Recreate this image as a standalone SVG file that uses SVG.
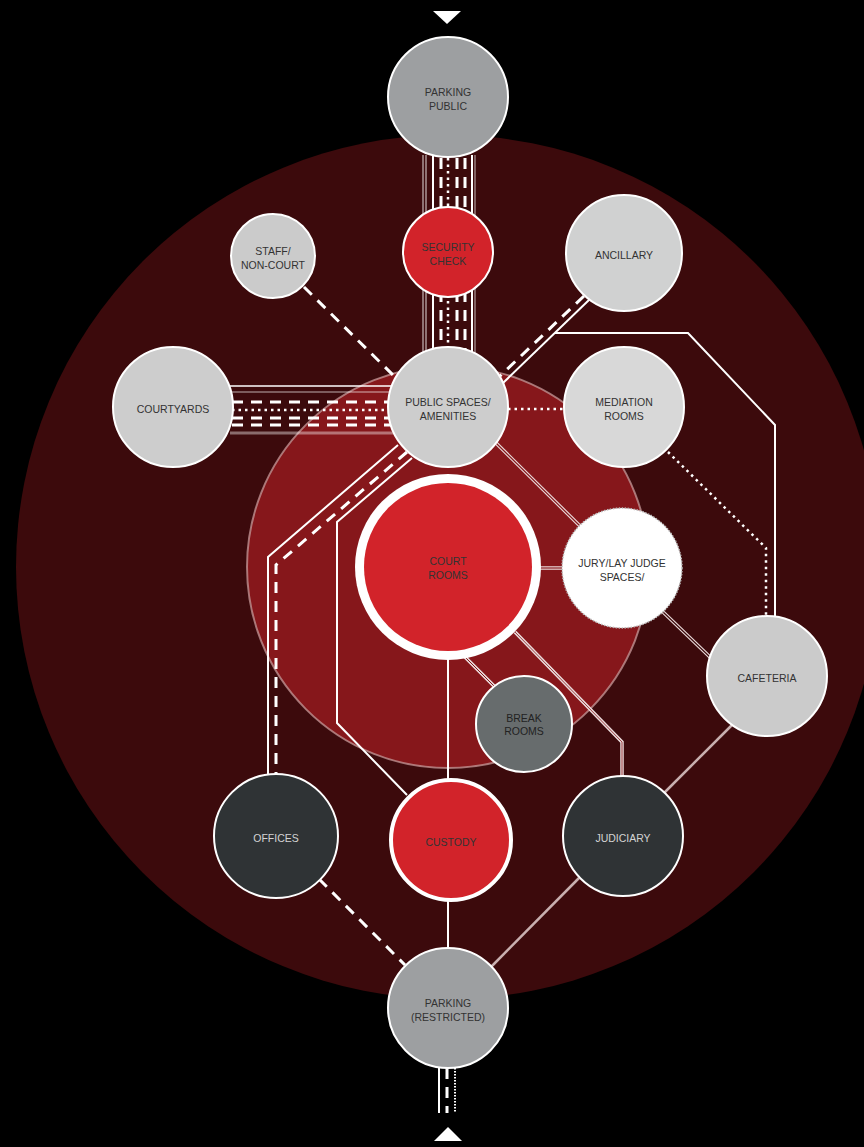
<svg xmlns="http://www.w3.org/2000/svg" width="864" height="1147" viewBox="0 0 864 1147">
<style>
.t{font-family:"Liberation Sans",Arial,sans-serif;font-size:10.5px;fill:#333;text-anchor:middle}
.tl{font-family:"Liberation Sans",Arial,sans-serif;font-size:10.5px;fill:#d4d4d4;text-anchor:middle}
.n{stroke:#fff;stroke-width:2}
.w{fill:none;stroke:#fff}
.s{fill:none;stroke:#fff;stroke-width:2}
.dash{fill:none;stroke:#fff;stroke-width:3;stroke-dasharray:11 8}
.dot{fill:none;stroke:#fff;stroke-width:2.5;stroke-dasharray:2.5 4}
.dbl{fill:none;stroke:#eadada;stroke-width:3.5}
.lt{fill:none;stroke:#c9b0b0;stroke-width:2.5}
</style>
<rect width="864" height="1147" fill="#000"/>
<circle cx="448" cy="567" r="432" fill="#3c0a0c"/>
<circle cx="448" cy="567" r="201" fill="#86171b" stroke="#c49a9a" stroke-opacity="0.75" stroke-width="2"/>
<polygon points="433,11 461,11 447,24" fill="#fff"/>
<polygon points="434,1141 462,1141 448,1127" fill="#fff"/>
<g id="connectors">
  <!-- top bundle -->
  <line class="w" x1="423" y1="155" x2="423" y2="355" stroke-width="1" stroke-opacity="0.85"/>
  <line class="w" x1="426" y1="155" x2="426" y2="355" stroke-width="1" stroke-opacity="0.85"/>
  <line class="s" x1="433" y1="155" x2="433" y2="355"/>
  <line class="dash" x1="441" y1="158" x2="441" y2="355" stroke-dasharray="10 9"/>
  <line class="dot" x1="448" y1="158" x2="448" y2="355"/>
  <line class="dash" x1="457" y1="158" x2="457" y2="355" stroke-dasharray="16 12"/>
  <line class="dash" x1="465" y1="158" x2="465" y2="355" stroke-dasharray="14 10"/>
  <line class="s" x1="472" y1="155" x2="472" y2="355"/>
  <line class="w" x1="475" y1="155" x2="475" y2="355" stroke-width="1" stroke-opacity="0.7"/>
  <!-- courtyards bundle -->
  <line class="w" x1="230" y1="386" x2="395" y2="386" stroke-width="1.5"/>
  <line class="w" x1="230" y1="392" x2="395" y2="392" stroke-width="1.5" stroke-opacity="0.45"/>
  <line class="dash" x1="232" y1="402" x2="395" y2="402" stroke-dasharray="12 8"/>
  <line class="dot" x1="232" y1="410" x2="395" y2="410"/>
  <line class="dash" x1="232" y1="418" x2="395" y2="418" stroke-dasharray="33 32"/>
  <line class="dash" x1="232" y1="425" x2="395" y2="425" stroke-dasharray="12 10"/>
  <line class="w" x1="230" y1="433" x2="395" y2="433" stroke-width="3" stroke-opacity="0.4"/>
  <!-- staff -->
  <line class="dash" x1="304" y1="287" x2="395" y2="377" stroke-dasharray="10 8"/>
  <!-- ancillary -->
  <line class="s" x1="590" y1="299" x2="503" y2="383" stroke-width="2.5"/>
  <line class="dash" x1="584" y1="296" x2="500" y2="376" stroke-dasharray="16 30"/>
  <!-- loop to cafeteria -->
  <polyline class="s" points="555,333 688,333 775,425 775,618" stroke-width="2.5"/>
  <!-- public-mediation -->
  <line class="dot" x1="508" y1="409" x2="564" y2="409"/>
  <!-- mediation-cafeteria -->
  <polyline class="dot" points="668,452 766,548 766,618"/>
  <!-- public-jury -->
  <line class="dbl" x1="494" y1="441" x2="582" y2="528"/>
  <line x1="494" y1="441" x2="582" y2="528" stroke="#86171b" stroke-width="1.2"/>
  <!-- court-jury -->
  <line class="dbl" x1="540" y1="568" x2="564" y2="568"/>
  <line x1="540" y1="568" x2="564" y2="568" stroke="#86171b" stroke-width="1.2"/>
  <!-- jury-cafeteria -->
  <line class="dbl" x1="662" y1="611" x2="712" y2="659"/>
  <line x1="662" y1="611" x2="712" y2="659" stroke="#3c0a0c" stroke-width="1.2"/>
  <!-- public to offices -->
  <polyline class="s" points="398,445 268,557 268,776" stroke-width="2.5"/>
  <polyline class="dash" points="407,452 276,565 276,776" stroke-dasharray="11 9"/>
  <polyline class="s" points="412,458 337,522 337,723 407,795"/>
  <!-- court-custody -->
  <line class="w" x1="448" y1="660" x2="448" y2="780" stroke-width="2" stroke="#f0e0e0"/>
  <!-- court-break -->
  <line class="dbl" x1="465" y1="657" x2="494" y2="686" stroke-width="3"/>
  <line x1="465" y1="657" x2="494" y2="686" stroke="#86171b" stroke-width="1"/>
  <!-- court-judiciary -->
  <polyline class="dbl" points="515,632 622,742 622,776" stroke-width="3"/>
  <polyline points="515,632 622,742 622,776" fill="none" stroke="#86171b" stroke-width="1" stroke-opacity="0.8"/>
  <!-- cafeteria-judiciary -->
  <line class="lt" x1="733" y1="724" x2="664" y2="793"/>
  <!-- offices-parking -->
  <line class="dash" x1="319" y1="879" x2="405" y2="965" stroke-dasharray="12 10"/>
  <!-- custody-parking -->
  <line class="w" x1="448" y1="900" x2="448" y2="950" stroke-width="2" stroke="#e8dede"/>
  <!-- judiciary-parking -->
  <line class="lt" x1="579" y1="878" x2="491" y2="967"/>
  <!-- bottom -->
  <line class="s" x1="439" y1="1065" x2="439" y2="1113"/>
  <line class="dash" x1="447" y1="1068" x2="447" y2="1113" stroke-dasharray="10 8" stroke-width="2.5"/>
  <line class="w" x1="455" y1="1065" x2="455" y2="1113" stroke-width="2" stroke-dasharray="1.5 1.5"/>
</g>
<g id="parking-public"><circle class="n" cx="448" cy="97" r="60" fill="#9d9fa1"/><text class="t" x="448" y="96">PARKING</text><text class="t" x="448" y="110">PUBLIC</text></g>
<g id="security-check"><circle class="n" cx="448" cy="252" r="45" fill="#d2232a" stroke-width="2.5"/><text class="t" x="448" y="251">SECURITY</text><text class="t" x="448" y="265">CHECK</text></g>
<g id="staff"><circle class="n" cx="273" cy="256" r="42" fill="#cbcbcb"/><text class="t" x="273" y="255">STAFF/</text><text class="t" x="273" y="269">NON-COURT</text></g>
<g id="ancillary"><circle class="n" cx="624" cy="253" r="58" fill="#d0d1d1"/><text class="t" x="624" y="259">ANCILLARY</text></g>
<g id="courtyards"><circle class="n" cx="173" cy="407" r="60" fill="#cdcdcd"/><text class="t" x="173" y="413">COURTYARDS</text></g>
<g id="public-spaces"><circle class="n" cx="448" cy="407" r="60" fill="#cdcdcd"/><text class="t" x="448" y="406">PUBLIC SPACES/</text><text class="t" x="448" y="420">AMENITIES</text></g>
<g id="mediation"><circle class="n" cx="624" cy="407" r="60" fill="#d8d8d8"/><text class="t" x="624" y="406">MEDIATION</text><text class="t" x="624" y="420">ROOMS</text></g>
<g id="court-rooms"><circle cx="448" cy="567" r="93" fill="#fff"/><circle cx="448" cy="567" r="84" fill="#d2232a"/><text class="t" x="448" y="565">COURT</text><text class="t" x="448" y="579">ROOMS</text></g>
<g id="jury"><circle cx="622" cy="568" r="60" fill="#fff" stroke="#bbb" stroke-width="1.5" stroke-dasharray="1.5 1.5"/><text class="t" x="622" y="567">JURY/LAY JUDGE</text><text class="t" x="622" y="581">SPACES/</text></g>
<g id="cafeteria"><circle class="n" cx="767" cy="676" r="60" fill="#cbcbcb"/><text class="t" x="767" y="682">CAFETERIA</text></g>
<g id="break-rooms"><circle class="n" cx="524" cy="724" r="48" fill="#676c6d"/><text class="t" x="524" y="722" fill="#222" style="fill:#222">BREAK</text><text class="t" x="524" y="735" style="fill:#222">ROOMS</text></g>
<g id="offices"><circle class="n" cx="276" cy="836" r="62" fill="#2f3335"/><text class="tl" x="276" y="842">OFFICES</text></g>
<g id="custody"><circle cx="451" cy="840" r="60" fill="#d2232a" stroke="#fff" stroke-width="4"/><text class="t" x="451" y="846">CUSTODY</text></g>
<g id="judiciary"><circle class="n" cx="623" cy="836" r="60" fill="#2f3335"/><text class="tl" x="623" y="842">JUDICIARY</text></g>
<g id="parking-restricted"><circle class="n" cx="448" cy="1008" r="60" fill="#9d9fa1"/><text class="t" x="448" y="1007">PARKING</text><text class="t" x="448" y="1021">(RESTRICTED)</text></g>
</svg>
